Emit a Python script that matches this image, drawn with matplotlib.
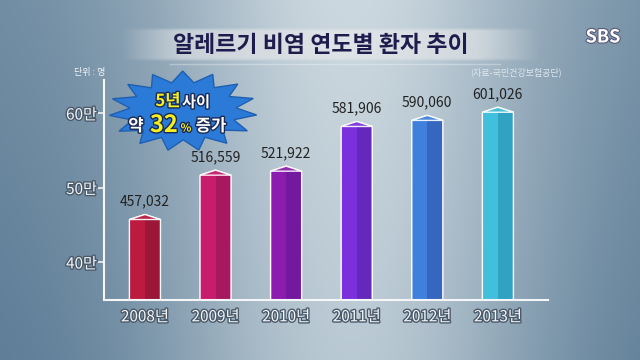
import matplotlib.pyplot as plt
import matplotlib.patheffects as pe
import numpy as np

plt.rcParams['font.family'] = ['Noto Sans CJK KR', 'DejaVu Sans']

years = ["2008년", "2009년", "2010년", "2011년", "2012년", "2013년"]
patients = [457032, 516559, 521922, 581906, 590060, 601026]
value_labels = ["457,032", "516,559", "521,922", "581,906", "590,060", "601,026"]
yticks = [400000, 500000, 600000]
ytick_labels = ["40만", "50만", "60만"]
front_colors = ["#bd1a40", "#c81c6c", "#8c1cb0", "#7a30dc", "#3f80dc", "#40c0dc"]
side_colors = ["#9c1638", "#a81860", "#7418a0", "#6428bc", "#3566c0", "#30a2c2"]

W, H = 640, 360
fig = plt.figure(figsize=(6.4, 3.6), dpi=100)

# background gradient
bg = fig.add_axes([0, 0, 1, 1])
xx, yy = np.meshgrid(np.linspace(0, 1, 320), np.linspace(0, 1, 180))
light = np.exp(-((xx - 0.55) ** 2) / 0.1) * 0.75 + 0.25
light = np.clip(light - 0.15 * yy, 0, 1)
dark = np.array([0x4e, 0x70, 0x8c]) / 255
lite = np.array([0xcc, 0xd8, 0xdf]) / 255
img = dark[None, None, :] + (lite - dark)[None, None, :] * light[..., None]
bg.imshow(img, extent=[0, W, H, 0], aspect='auto')
# title band, fading at the ends
bx, by = np.meshgrid(np.linspace(-1, 1, 300), np.linspace(-1, 1, 30))
band_img = np.ones((30, 300, 4))
band_img[..., :3] = 0.93
band_img[..., 3] = 0.55 * np.clip((1 - np.abs(bx)) / 0.3, 0, 1) * np.clip((1 - np.abs(by)) / 0.2, 0, 1)
bg.imshow(band_img, extent=[120, 540, 62, 27], aspect='auto')
bg.plot([170, 500], [64, 64], color="white", alpha=0.3, lw=1)
bg.set_xlim(0, W)
bg.set_ylim(H, 0)
bg.axis('off')

bg.text(321, 45, "알레르기 비염 연도별 환자 추이", fontsize=16.5, fontweight='bold',
        color="#1e1c4c", ha='center', va='center')
bg.text(603, 37, "SBS", fontsize=13, fontweight='bold', color='white', ha='center', va='center',
        path_effects=[pe.withStroke(linewidth=1.5, foreground="#557")])
bg.text(90, 72, "단위 : 명", fontsize=6.5, color="#f0f4f8", ha='center', va='center')
bg.text(516, 72, "(자료-국민건강보험공단)", fontsize=6.5, color="#dde6ee", ha='center', va='center')

# starburst
n = 15
ang = np.linspace(0, 2 * np.pi, 2 * n, endpoint=False) + 0.1
rad = np.where(np.arange(2 * n) % 2 == 0, 1.0, 0.72)
sx = 183 + 74 * rad * np.cos(ang)
sy = 111 + 40 * rad * np.sin(ang)
bg.fill(sx, sy, color="#2b7ad8", ec="#1f5fb0", lw=1, zorder=3)
outline = [pe.withStroke(linewidth=2, foreground="#1a2a55")]
bg.text(168, 101, "5년", fontsize=12, fontweight='bold', color="#f5f020", ha='center', va='center',
        path_effects=outline, zorder=4)
bg.text(196, 102, "사이", fontsize=11, fontweight='bold', color="white", ha='center', va='center',
        path_effects=outline, zorder=4)
bg.text(136, 126, "약", fontsize=12, fontweight='bold', color="white", ha='center', va='center',
        path_effects=outline, zorder=4)
bg.text(164, 125, "32", fontsize=17, fontweight='bold', style='italic', color="#f5f020",
        ha='center', va='center', path_effects=outline, zorder=4)
bg.text(186, 128, "%", fontsize=8, fontweight='bold', color="#f5f020", ha='center', va='center',
        path_effects=outline, zorder=4)
bg.text(211, 126, "증가", fontsize=12, fontweight='bold', color="white", ha='center', va='center',
        path_effects=outline, zorder=4)

# main chart
ax = fig.add_axes([104 / W, 60 / H, 444 / W, 220 / H])
ax.patch.set_alpha(0)
x = np.arange(len(years))
w = 0.44
ymin, ymax = 349000, 644300
roof = (ymax - ymin) / 220 * 5
ax.bar(x - w / 4, patients, width=w / 2, bottom=0, color=front_colors, zorder=2)
ax.bar(x + w / 4, patients, width=w / 2, bottom=0, color=side_colors, zorder=2)
for i, v in enumerate(patients):
    ax.fill([x[i] - w / 2, x[i], x[i] + w / 2, x[i] + w / 2, x[i], x[i] - w / 2],
            [v, v + roof, v, 0, 0, 0], fc='none', ec='white', lw=1, zorder=3)
    ax.fill([x[i] - w / 2, x[i], x[i] + w / 2], [v, v + roof, v],
            color=front_colors[i], ec='white', lw=1, zorder=3, alpha=0.9)
    ax.text(x[i], v + roof * 2.2, value_labels[i], ha='center', va='bottom', fontsize=10,
            color="#222222", zorder=4)

ax.set_xlim(-0.58, 5.71)
ax.set_ylim(ymin, ymax)
ax.set_yticks(yticks)
ax.set_yticklabels(ytick_labels)
ax.set_xticks(x)
ax.set_xticklabels(years)
white_fx = [pe.withStroke(linewidth=2, foreground="#4a5a6a")]
for lab in ax.get_yticklabels() + ax.get_xticklabels():
    lab.set_color("#f4f6f8")
    lab.set_fontsize(11)
    lab.set_path_effects(white_fx)
ax.tick_params(axis='y', length=4, width=1.2, color="#f0f0f0", pad=1)
ax.tick_params(axis='x', length=0, pad=6)
for s in ['top', 'right']:
    ax.spines[s].set_visible(False)
ax.spines['left'].set_color("#f4f6f8")
ax.spines['bottom'].set_color("#f4f6f8")
ax.spines['left'].set_linewidth(1.5)
ax.spines['bottom'].set_linewidth(1.5)

fig.savefig("out.png", dpi=100)
